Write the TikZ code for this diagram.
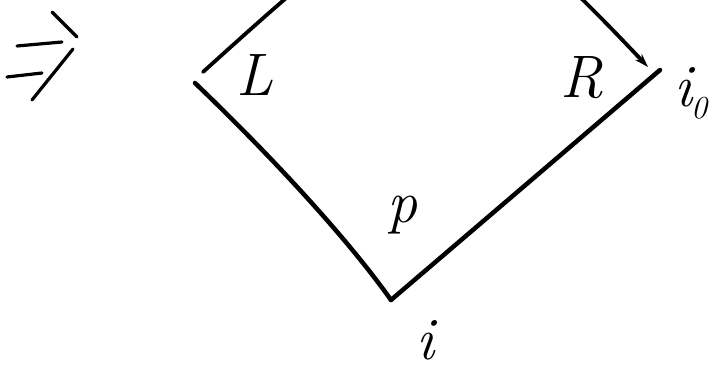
\documentclass[tikz,border=0pt]{standalone}
\usetikzlibrary{arrows.meta}
\begin{document}
\begin{tikzpicture}[x=1pt,y=1pt,
  pen/.style={line width=4.5pt,line cap=round,line join=round},
  thinpen/.style={line width=3.2pt,line cap=round,line join=round},
  lab/.style={font=\fontsize{60}{60}\selectfont\itshape,inner sep=0pt}]
\useasboundingbox (0,0) rectangle (712,375);
\clip (0,0) rectangle (712,375);
% implication arrow
\coordinate (h1) at (52,363); \coordinate (h2) at (77,338);
\coordinate (b1a) at (17,329); \coordinate (b1b) at (62,333);
\coordinate (s1) at (73,326); \coordinate (s2) at (32,275);
\coordinate (b2a) at (7,298); \coordinate (b2b) at (42,302);
\draw[thinpen] (h1) -- (h2);
\draw[thinpen] (b1a) -- (b1b);
\draw[thinpen] (s1) -- (s2);
\draw[thinpen] (b2a) -- (b2b);
% corners
\coordinate (Ltop) at (203,303);
\coordinate (Lc) at (195,292);
\coordinate (V) at (391,75);
\coordinate (Rc) at (660,305);
\coordinate (Rarr) at (648,308);
% arc with arrow
\draw[pen,line width=3.8pt,-{Stealth[length=14pt,width=9pt]}]
  (Ltop) .. controls (426,504) and (445,523) .. (Rarr);
% sides
\draw[pen] (Lc) .. controls (265,225) and (345,140) .. (V);
\draw[pen] (V) -- (Rc);
% labels
\node[lab] (L) at (255,300) {L};
\node[lab] (R) at (582,297) {R};
\node[lab] (P) at (402,160) {p};
\node[lab,anchor=west] (i0) at (674,282) {i\kern-1pt\raisebox{-12pt}{\fontsize{32}{32}\selectfont 0}};
\node[lab] (i) at (425,35) {i};
\end{tikzpicture}
\end{document}
